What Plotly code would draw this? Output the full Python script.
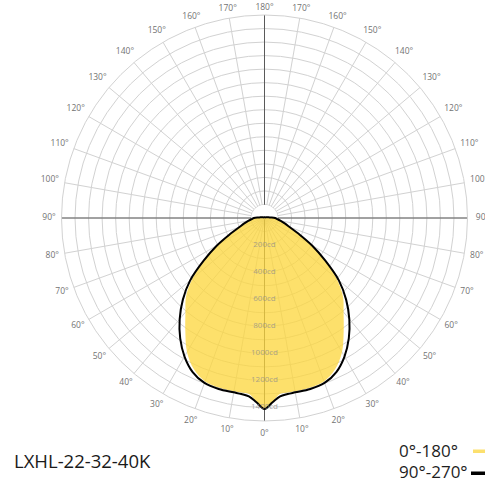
import math
import plotly.graph_objects as go

# Half-profile angles (deg from nadir) and intensities (cd)
angles = [0, 2.5, 5, 7.5, 10, 15, 20, 25, 30, 35, 40, 45, 50, 55, 60, 65, 70, 75, 80, 85, 90, 95, 100, 110, 130, 180]
c0_180 = [1411, 1360, 1305, 1300, 1300, 1297, 1285, 1234, 1145, 1020, 909, 820, 695, 540, 400, 278, 200, 155, 122, 96, 78, 44, 30, 15, 7, 5]
c90_270 = [1411, 1363, 1323, 1312, 1308, 1308, 1297, 1256, 1182, 1086, 975, 853, 717, 547, 406, 281, 200, 155, 122, 96, 78, 44, 30, 15, 7, 5]

radial_ticks = [200, 400, 600, 800, 1000, 1200, 1400]
radial_labels = ["200cd", "400cd", "600cd", "800cd", "1000cd", "1200cd", "1400cd"]
angle_ticks = list(range(0, 360, 10))
angle_labels = [f"{t if t <= 180 else 360 - t}°" for t in angle_ticks]
title_text = "LXHL-22-32-40K"
legend_names = ["0°-180°", "90°-270°"]

YELLOW_FILL = "rgba(252,214,60,0.76)"
YELLOW = "#FCE06E"
GRID = "#d2d2d2"
AXIS = "#5a5a5a"
RMAX = 1500
W, H = 485, 483
cx, cy, R = 264.5, 218, 203
R2 = 218  # radius of the (invisible) label ring subplot, px


def mirror(vals):
    th = angles + [360 - a for a in reversed(angles[:-1])]
    rr = vals + list(reversed(vals[:-1]))
    return th, rr


def label_radius(t):
    # label distance from the centre, in px (label-ring units)
    s = abs(math.sin(math.radians(t)))
    px = 210 + 11 * s if math.cos(math.radians(t)) < 0 else 215.5
    return min(px, R2)


fig = go.Figure()

# main axes lines (0-180 and 90-270)
fig.add_trace(go.Scatterpolar(theta=[0, 0, 180], r=[RMAX, 0, RMAX], mode="lines",
                              line=dict(color=AXIS, width=1), hoverinfo="skip", showlegend=False))
fig.add_trace(go.Scatterpolar(theta=[90, 90, 270], r=[RMAX, 0, RMAX], mode="lines",
                              line=dict(color=AXIS, width=1), hoverinfo="skip", showlegend=False))
# white centre mask (upper half)
mask_th = list(range(85, 276, 5))
fig.add_trace(go.Scatterpolar(theta=mask_th, r=[97] * len(mask_th), mode="lines", fill="toself",
                              fillcolor="white", line=dict(color="white", width=0),
                              hoverinfo="skip", showlegend=False))

th, rr = mirror(c0_180)
fig.add_trace(go.Scatterpolar(theta=th, r=rr, mode="lines", fill="toself", fillcolor=YELLOW_FILL,
                              line=dict(color="rgba(0,0,0,0)", width=0, shape="spline"),
                              name=legend_names[0], showlegend=False, hoverinfo="skip"))
th, rr = mirror(c90_270)
fig.add_trace(go.Scatterpolar(theta=th, r=rr, mode="lines",
                              line=dict(color="black", width=2, shape="spline"),
                              name=legend_names[1], showlegend=False, hoverinfo="skip"))

fig.add_trace(go.Scatterpolar(theta=[0] * len(radial_ticks), r=radial_ticks, mode="text",
                              text=radial_labels, textposition="middle center",
                              textfont=dict(family="Open Sans", size=8, color="rgba(140,140,140,0.75)"),
                              hoverinfo="skip", showlegend=False))

# angular labels on a concentric, invisible label ring
fig.add_trace(go.Scatterpolar(theta=angle_ticks, r=[label_radius(t) for t in angle_ticks],
                              mode="text", text=angle_labels, textposition="middle center",
                              textfont=dict(family="Open Sans", size=8.5, color="#737373"),
                              cliponaxis=False, hoverinfo="skip", showlegend=False,
                              subplot="polar2"))

fig.update_layout(
    width=W, height=H, margin=dict(l=0, r=0, t=0, b=0),
    paper_bgcolor="white", showlegend=False,
    polar=dict(
        domain=dict(x=[(cx - R) / W, (cx + R) / W], y=[1 - (cy + R) / H, 1 - (cy - R) / H]),
        bgcolor="white",
        radialaxis=dict(range=[0, RMAX], tickmode="linear", tick0=0, dtick=100,
                        showticklabels=False, ticks="", showline=False,
                        gridcolor=GRID, gridwidth=1, angle=-90),
        angularaxis=dict(rotation=-90, direction="clockwise", tickmode="array",
                         tickvals=angle_ticks, ticks="", showticklabels=False,
                         showline=True, linecolor=GRID, linewidth=1,
                         gridcolor=GRID, gridwidth=1),
    ),
    polar2=dict(
        domain=dict(x=[(cx - R2) / W, (cx + R2) / W], y=[1 - (cy + R2) / H, 1 - (cy - R2) / H]),
        bgcolor="rgba(0,0,0,0)",
        radialaxis=dict(range=[0, R2], visible=False, showgrid=False),
        angularaxis=dict(rotation=-90, direction="clockwise", visible=False, showgrid=False,
                         showline=False, ticks="", showticklabels=False),
    ),
    font=dict(family="Open Sans"),
)

fig.add_annotation(x=12 / W, y=1 - 460 / H, xref="paper", yref="paper", xanchor="left",
                   yanchor="middle", text=title_text, showarrow=False,
                   font=dict(family="Open Sans", size=18.5, color="#1a1a1a"))
fig.add_annotation(x=460 / W, y=1 - 450 / H, xref="paper", yref="paper", xanchor="right",
                   yanchor="middle", text=legend_names[0], showarrow=False,
                   font=dict(family="Open Sans", size=17, color="#1e1e1e"))
fig.add_annotation(x=470 / W, y=1 - 471 / H, xref="paper", yref="paper", xanchor="right",
                   yanchor="middle", text=legend_names[1], showarrow=False,
                   font=dict(family="Open Sans", size=17, color="#1e1e1e"))
fig.add_shape(type="rect", xref="paper", yref="paper", x0=473 / W, x1=486 / W,
              y0=1 - 453 / H, y1=1 - 449.5 / H, fillcolor=YELLOW, line=dict(width=0))
fig.add_shape(type="rect", xref="paper", yref="paper", x0=471 / W, x1=486 / W,
              y0=1 - 475 / H, y1=1 - 471.5 / H, fillcolor="black", line=dict(width=0))

fig.write_html("out.html", config={"displayModeBar": False},
               post_script="document.body.style.margin='0';document.body.style.overflow='hidden';")
